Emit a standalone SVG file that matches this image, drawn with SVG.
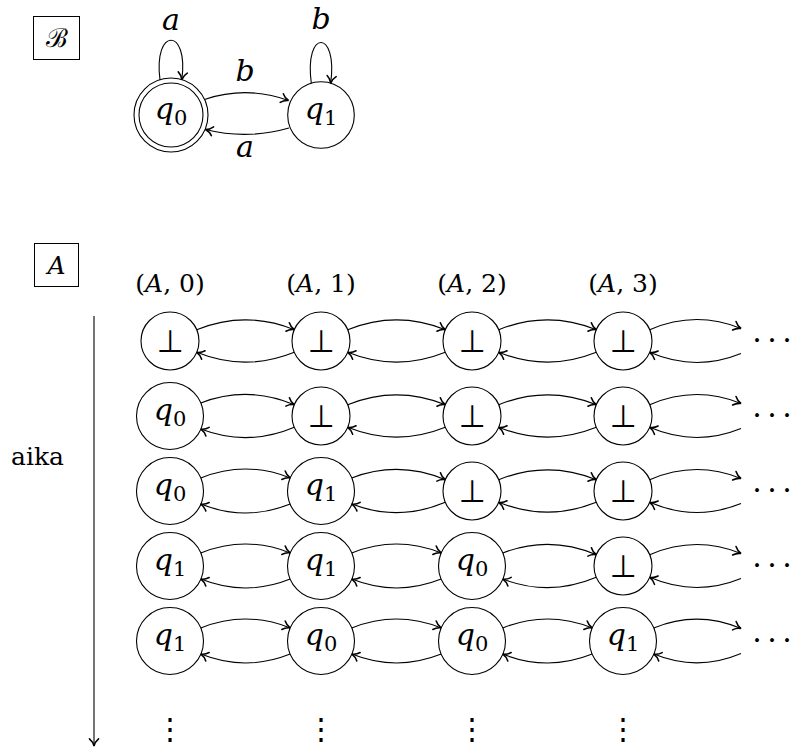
<svg xmlns="http://www.w3.org/2000/svg" width="795" height="752" viewBox="0 0 795 752">
<defs>
<marker id="arr" markerWidth="12" markerHeight="12" refX="0" refY="0" viewBox="-7 -5 8 10" orient="auto" markerUnits="userSpaceOnUse">
<path d="M -6 -3.8 C -4.3 -1.7 -1.6 -0.4 0 0 C -1.6 0.4 -4.3 1.7 -6 3.8" fill="none" stroke="#000" stroke-width="1.3" stroke-linecap="round"/>
</marker>
<style>
.st{fill:#fff;stroke:#000;stroke-width:1.1}
.box{fill:none;stroke:#000;stroke-width:1}
.e{fill:none;stroke:#000;stroke-width:1.1;marker-end:url(#arr)}
.m{font-family:'DejaVu Serif',serif;font-size:30px;fill:#000}
.i{font-style:italic}
.sub{font-size:21px}
.bot{font-family:'DejaVu Sans',sans-serif;font-size:31px;fill:#000}
.lab{font-family:'DejaVu Serif',serif;font-size:25px;fill:#000}
.dots{font-family:'DejaVu Serif',serif;font-size:30px;fill:#000}
.vd{font-family:'DejaVu Serif',serif;font-size:30px;fill:#000}
.cal{font-family:'DejaVu Serif',serif;font-size:26px;fill:#000}
</style>
</defs>

<!-- Automaton B -->
<g id="labelB">
<rect class="box" x="33.5" y="16.5" width="46" height="43"/>
<text class="cal" x="56.5" y="47" text-anchor="middle">ℬ</text>
</g>
<g id="B-q0">
<circle class="st" cx="171" cy="115" r="37"/>
<circle class="st" cx="171" cy="115" r="32"/>
<text class="m" x="171" y="119" text-anchor="middle"><tspan class="i">q</tspan><tspan class="sub" dy="5.5">0</tspan></text>
</g>
<g id="B-q1">
<circle class="st" cx="321" cy="115" r="33.3"/>
<text class="m" x="321" y="119" text-anchor="middle"><tspan class="i">q</tspan><tspan class="sub" dy="5.5">1</tspan></text>
</g>
<g id="B-edges">
<path class="e" d="M160,80 C153,27 189,27 181.8,79.6"/>
<path class="e" d="M311.3,83.2 C304,29 338,29 330.7,83.2"/>
<path class="e" d="M204.5,99.4 Q247,85.4 288.5,100.5"/>
<path class="e" d="M289,128 Q247,140 205.5,129.5"/>
<text class="m i" x="171" y="30" text-anchor="middle">a</text>
<text class="m i" x="321" y="29" text-anchor="middle">b</text>
<text class="m i" x="245" y="81" text-anchor="middle">b</text>
<text class="m i" x="245" y="157" text-anchor="middle">a</text>
</g>

<!-- Automaton A -->
<g id="labelA">
<rect class="box" x="34.5" y="243.5" width="44" height="43"/>
<text class="lab i" x="56.5" y="274" text-anchor="middle">A</text>
</g>
<g id="col-labels">
<text class="lab" x="170" y="292" text-anchor="middle">(<tspan class="i">A</tspan>, 0)</text>
<text class="lab" x="321" y="292" text-anchor="middle">(<tspan class="i">A</tspan>, 1)</text>
<text class="lab" x="472" y="292" text-anchor="middle">(<tspan class="i">A</tspan>, 2)</text>
<text class="lab" x="623" y="292" text-anchor="middle">(<tspan class="i">A</tspan>, 3)</text>
</g>
<g id="time-axis">
<line x1="94" y1="316" x2="94" y2="746" stroke="#000" stroke-width="1.1" marker-end="url(#arr)"/>
<text class="lab" x="37.5" y="465" text-anchor="middle">aika</text>
</g>

<!-- Row 1 -->
<g id="r1c0"><circle class="st" cx="170" cy="341" r="29"/><text class="bot" x="170" y="352" text-anchor="middle">⊥</text></g>
<g id="r1c1"><circle class="st" cx="321" cy="341" r="29"/><text class="bot" x="321" y="352" text-anchor="middle">⊥</text></g>
<g id="r1c2"><circle class="st" cx="472" cy="341" r="29"/><text class="bot" x="472" y="352" text-anchor="middle">⊥</text></g>
<g id="r1c3"><circle class="st" cx="623" cy="341" r="29"/><text class="bot" x="623" y="352" text-anchor="middle">⊥</text></g>
<!-- Row 2 -->
<g id="r2c0"><circle class="st" cx="170" cy="416" r="33.5"/><text class="m" x="170" y="420" text-anchor="middle"><tspan class="i">q</tspan><tspan class="sub" dy="5.5">0</tspan></text></g>
<g id="r2c1"><circle class="st" cx="321" cy="416" r="29"/><text class="bot" x="321" y="427" text-anchor="middle">⊥</text></g>
<g id="r2c2"><circle class="st" cx="472" cy="416" r="29"/><text class="bot" x="472" y="427" text-anchor="middle">⊥</text></g>
<g id="r2c3"><circle class="st" cx="623" cy="416" r="29"/><text class="bot" x="623" y="427" text-anchor="middle">⊥</text></g>
<!-- Row 3 -->
<g id="r3c0"><circle class="st" cx="170" cy="491" r="33.5"/><text class="m" x="170" y="495" text-anchor="middle"><tspan class="i">q</tspan><tspan class="sub" dy="5.5">0</tspan></text></g>
<g id="r3c1"><circle class="st" cx="321" cy="491" r="33.5"/><text class="m" x="321" y="495" text-anchor="middle"><tspan class="i">q</tspan><tspan class="sub" dy="5.5">1</tspan></text></g>
<g id="r3c2"><circle class="st" cx="472" cy="491" r="29"/><text class="bot" x="472" y="502" text-anchor="middle">⊥</text></g>
<g id="r3c3"><circle class="st" cx="623" cy="491" r="29"/><text class="bot" x="623" y="502" text-anchor="middle">⊥</text></g>
<!-- Row 4 -->
<g id="r4c0"><circle class="st" cx="170" cy="566" r="33.5"/><text class="m" x="170" y="570" text-anchor="middle"><tspan class="i">q</tspan><tspan class="sub" dy="5.5">1</tspan></text></g>
<g id="r4c1"><circle class="st" cx="321" cy="566" r="33.5"/><text class="m" x="321" y="570" text-anchor="middle"><tspan class="i">q</tspan><tspan class="sub" dy="5.5">1</tspan></text></g>
<g id="r4c2"><circle class="st" cx="472" cy="566" r="33.5"/><text class="m" x="472" y="570" text-anchor="middle"><tspan class="i">q</tspan><tspan class="sub" dy="5.5">0</tspan></text></g>
<g id="r4c3"><circle class="st" cx="623" cy="566" r="29"/><text class="bot" x="623" y="577" text-anchor="middle">⊥</text></g>
<!-- Row 5 -->
<g id="r5c0"><circle class="st" cx="170" cy="641" r="33.5"/><text class="m" x="170" y="645" text-anchor="middle"><tspan class="i">q</tspan><tspan class="sub" dy="5.5">1</tspan></text></g>
<g id="r5c1"><circle class="st" cx="321" cy="641" r="33.5"/><text class="m" x="321" y="645" text-anchor="middle"><tspan class="i">q</tspan><tspan class="sub" dy="5.5">0</tspan></text></g>
<g id="r5c2"><circle class="st" cx="472" cy="641" r="33.5"/><text class="m" x="472" y="645" text-anchor="middle"><tspan class="i">q</tspan><tspan class="sub" dy="5.5">0</tspan></text></g>
<g id="r5c3"><circle class="st" cx="623" cy="641" r="33.5"/><text class="m" x="623" y="645" text-anchor="middle"><tspan class="i">q</tspan><tspan class="sub" dy="5.5">1</tspan></text></g>

<g id="continuations">
<text class="dots" y="350" text-anchor="middle"><tspan x="757">·</tspan><tspan x="772">·</tspan><tspan x="787">·</tspan></text>
<text class="dots" y="425" text-anchor="middle"><tspan x="757">·</tspan><tspan x="772">·</tspan><tspan x="787">·</tspan></text>
<text class="dots" y="500" text-anchor="middle"><tspan x="757">·</tspan><tspan x="772">·</tspan><tspan x="787">·</tspan></text>
<text class="dots" y="575" text-anchor="middle"><tspan x="757">·</tspan><tspan x="772">·</tspan><tspan x="787">·</tspan></text>
<text class="dots" y="650" text-anchor="middle"><tspan x="757">·</tspan><tspan x="772">·</tspan><tspan x="787">·</tspan></text>
<text class="vd" x="170" y="739" text-anchor="middle">⋮</text>
<text class="vd" x="321" y="739" text-anchor="middle">⋮</text>
<text class="vd" x="472" y="739" text-anchor="middle">⋮</text>
<text class="vd" x="623" y="739" text-anchor="middle">⋮</text>
</g>

<g id="connectors">
<path class="e" d="M196.7,329.7 Q245.5,310 294.3,329.7"/>
<path class="e" d="M294.3,352.3 Q245.5,372 196.7,352.3"/>
<path class="e" d="M347.7,329.7 Q396.5,310 445.3,329.7"/>
<path class="e" d="M445.3,352.3 Q396.5,372 347.7,352.3"/>
<path class="e" d="M498.7,329.7 Q547.5,310 596.3,329.7"/>
<path class="e" d="M596.3,352.3 Q547.5,372 498.7,352.3"/>
<path class="e" d="M649.7,329.7 Q695.4,310 741,328.5"/>
<path class="e" d="M741,353.5 Q695.4,372 649.7,352.3"/>
<path class="e" d="M200.8,402.9 Q247.5,385 294.3,404.7"/>
<path class="e" d="M294.3,427.3 Q247.5,447 200.8,429.1"/>
<path class="e" d="M347.7,404.7 Q396.5,385 445.3,404.7"/>
<path class="e" d="M445.3,427.3 Q396.5,447 347.7,427.3"/>
<path class="e" d="M498.7,404.7 Q547.5,385 596.3,404.7"/>
<path class="e" d="M596.3,427.3 Q547.5,447 498.7,427.3"/>
<path class="e" d="M649.7,404.7 Q695.4,385 741,403.5"/>
<path class="e" d="M741,428.5 Q695.4,447 649.7,427.3"/>
<path class="e" d="M200.8,477.9 Q245.5,460 290.2,477.9"/>
<path class="e" d="M290.2,504.1 Q245.5,522 200.8,504.1"/>
<path class="e" d="M351.8,477.9 Q398.5,460 445.3,479.7"/>
<path class="e" d="M445.3,502.3 Q398.5,522 351.8,504.1"/>
<path class="e" d="M498.7,479.7 Q547.5,460 596.3,479.7"/>
<path class="e" d="M596.3,502.3 Q547.5,522 498.7,502.3"/>
<path class="e" d="M649.7,479.7 Q695.4,460 741,478.5"/>
<path class="e" d="M741,503.5 Q695.4,522 649.7,502.3"/>
<path class="e" d="M200.8,552.9 Q245.5,535 290.2,552.9"/>
<path class="e" d="M290.2,579.1 Q245.5,597 200.8,579.1"/>
<path class="e" d="M351.8,552.9 Q396.5,535 441.2,552.9"/>
<path class="e" d="M441.2,579.1 Q396.5,597 351.8,579.1"/>
<path class="e" d="M502.8,552.9 Q549.5,535 596.3,554.7"/>
<path class="e" d="M596.3,577.3 Q549.5,597 502.8,579.1"/>
<path class="e" d="M649.7,554.7 Q695.4,535 741,553.5"/>
<path class="e" d="M741,578.5 Q695.4,597 649.7,577.3"/>
<path class="e" d="M200.8,627.9 Q245.5,610 290.2,627.9"/>
<path class="e" d="M290.2,654.1 Q245.5,672 200.8,654.1"/>
<path class="e" d="M351.8,627.9 Q396.5,610 441.2,627.9"/>
<path class="e" d="M441.2,654.1 Q396.5,672 351.8,654.1"/>
<path class="e" d="M502.8,627.9 Q547.5,610 592.2,627.9"/>
<path class="e" d="M592.2,654.1 Q547.5,672 502.8,654.1"/>
<path class="e" d="M653.8,627.9 Q697.4,610 741,628.5"/>
<path class="e" d="M741,653.5 Q697.4,672 653.8,654.1"/>
</g>
</svg>
